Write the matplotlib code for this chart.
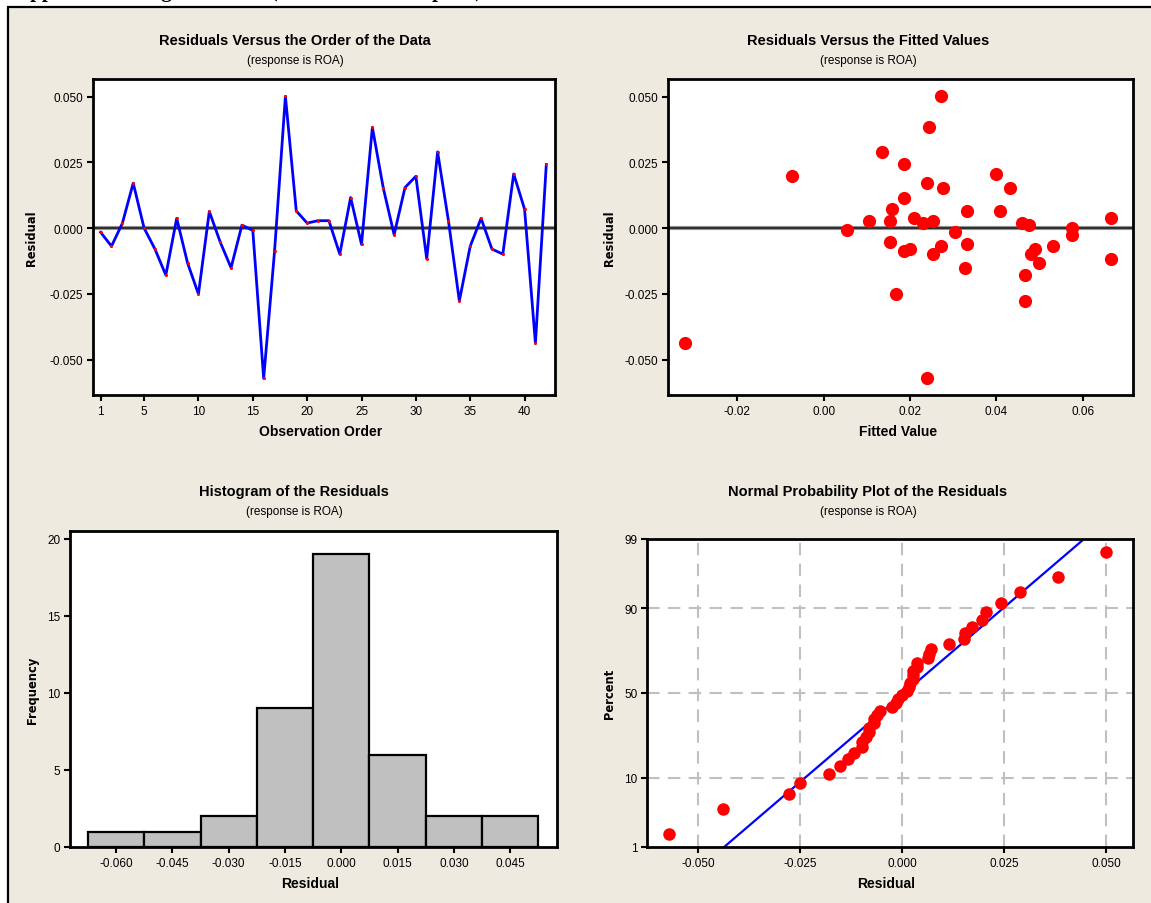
import matplotlib
matplotlib.use("Agg")
import matplotlib.pyplot as plt
from matplotlib import font_manager
from matplotlib.patches import Rectangle
from matplotlib.ticker import FormatStrFormatter
from statistics import NormalDist
import numpy as np

# residuals in observation order (response is ROA)
obs_order = np.arange(1, 43)
residuals = np.array([
    -0.0016, -0.0069, 0.0018, 0.0171, 0.0000, -0.0080, -0.0179, 0.0037,
    -0.0133, -0.0251, 0.0063, -0.0053, -0.0151, 0.0011, -0.0009, -0.0572,
    -0.0089, 0.0501, 0.0065, 0.0019, 0.0028, 0.0028, -0.0099, 0.0116,
    -0.0062, 0.0383, 0.0153, -0.0025, 0.0154, 0.0197, -0.0117, 0.0290,
    0.0027, -0.0277, -0.0069, 0.0037, -0.0080, -0.0099, 0.0206, 0.0072,
    -0.0438, 0.0242])
fitted = np.array([
    0.0305, 0.0272, 0.0229, 0.0239, 0.0574, 0.0201, 0.0465, 0.0210,
    0.0499, 0.0168, 0.0333, 0.0154, 0.0328, 0.0475, 0.0054, 0.0239,
    0.0187, 0.0272, 0.0409, 0.0460, 0.0154, 0.0253, 0.0253, 0.0187,
    0.0333, 0.0243, 0.0277, 0.0574, 0.0432, -0.0073, 0.0664, 0.0135,
    0.0106, 0.0465, 0.0532, 0.0664, 0.0490, 0.0480, 0.0399, 0.0158,
    -0.0320, 0.0187])

order_ticks = [1, 5, 10, 15, 20, 25, 30, 35, 40]
resid_ticks = [-0.050, -0.025, 0.000, 0.025, 0.050]
fit_ticks = [-0.02, 0.00, 0.02, 0.04, 0.06]
hist_bins = [-0.0675, -0.0525, -0.0375, -0.0225, -0.0075, 0.0075, 0.0225, 0.0375, 0.0525]
hist_ticks = [-0.060, -0.045, -0.030, -0.015, 0.000, 0.015, 0.030, 0.045]
freq_ticks = [0, 5, 10, 15, 20]
prob_xticks = [-0.050, -0.025, 0.000, 0.025, 0.050]
prob_ticks = [1, 10, 50, 90, 99]
fit_line_pct = [1, 99]
fit_line_res = [-0.0436, 0.0446]

names = {f.name for f in font_manager.fontManager.ttflist}
narrow = 'Liberation Sans Narrow' if 'Liberation Sans Narrow' in names else 'Liberation Sans'
plt.rcParams['font.family'] = [narrow, 'DejaVu Sans']
plt.rcParams['axes.unicode_minus'] = False

W, H = 1151, 904
BG = '#EEEAE0'
fig = plt.figure(figsize=(W / 100, H / 100), dpi=100, facecolor='white')
fig.patches.append(Rectangle((8 / W, -0.02), 1, 1 - 8 / H + 0.02, transform=fig.transFigure,
                             facecolor=BG, edgecolor='black', linewidth=1.6, zorder=-1))
# page heading, cut off at the top edge as in the scanned page
fig.text(15 / W, 1 + 3 / H, 'Appendix 4: Diagnostic Test (Model 1 residual plots)',
         fontfamily='Liberation Serif', fontweight='bold', fontsize=15, va='baseline', ha='left')


def box(x0, y0, x1, y1):
    return [x0 / W, 1 - y1 / H, (x1 - x0) / W, (y1 - y0) / H]


def txt(x, y, s, **kw):
    fig.text(x / W, 1 - y / H, s, ha='center', va='center', **kw)


def style(ax):
    ax.set_facecolor('white')
    for side in ax.spines.values():
        side.set_linewidth(2)
        side.set_color('black')
    ax.tick_params(direction='out', length=4, width=1.5, labelsize=8.5, pad=3,
                   top=False, right=False)


def titles(xc, y, title, xl, xlx, xly, yl, ylx, yly):
    txt(xc, y, title, fontsize=10.5, fontweight='bold')
    txt(xc, y + 20, '(response is ROA)', fontsize=8.5)
    txt(xlx, xly, xl, fontsize=10, fontweight='bold')
    txt(ylx, yly, yl, fontsize=8.3, fontweight='bold', rotation=90, family='DejaVu Sans')


# Residuals versus order
ax1 = fig.add_axes(box(93, 80, 555, 396))
style(ax1)
ax1.axhline(0, color='#A0A0A0', lw=3, zorder=1)
ax1.axhline(0, color='#303030', lw=1.6, zorder=2)
ax1.plot(obs_order, residuals, color='#0000FF', lw=2, zorder=3)
ax1.plot(obs_order, residuals, 'o', color='red', ms=2.2, mew=0, zorder=4)
ax1.set_xlim(0.3, 42.8)
ax1.set_ylim(-0.0635, 0.0567)
ax1.set_xticks(order_ticks)
ax1.set_yticks(resid_ticks)
ax1.yaxis.set_major_formatter(FormatStrFormatter('%.3f'))
titles(295, 41, 'Residuals Versus the Order of the Data', 'Observation Order', 321, 432,
       'Residual', 32, 238)

# Residuals versus fits
ax2 = fig.add_axes(box(668, 80, 1133, 396))
style(ax2)
ax2.axhline(0, color='#A0A0A0', lw=3, zorder=1)
ax2.axhline(0, color='#303030', lw=1.6, zorder=2)
ax2.plot(fitted, residuals, 'o', color='red', ms=9.5, mew=0, zorder=3)
ax2.set_xlim(-0.036, 0.0716)
ax2.set_ylim(-0.0635, 0.0567)
ax2.set_xticks(fit_ticks)
ax2.set_yticks(resid_ticks)
ax2.xaxis.set_major_formatter(FormatStrFormatter('%.2f'))
ax2.yaxis.set_major_formatter(FormatStrFormatter('%.3f'))
titles(868, 41, 'Residuals Versus the Fitted Values', 'Fitted Value', 898, 432,
       'Residual', 610, 238)

# Histogram
ax3 = fig.add_axes(box(70, 532, 557, 848))
style(ax3)
ax3.hist(residuals, bins=hist_bins, color='#C0C0C0', edgecolor='black', linewidth=1.6, zorder=2)
ax3.set_xlim(-0.0723, 0.0575)
ax3.set_ylim(0, 20.5)
ax3.set_xticks(hist_ticks)
ax3.set_yticks(freq_ticks)
ax3.xaxis.set_major_formatter(FormatStrFormatter('%.3f'))
titles(294, 492, 'Histogram of the Residuals', 'Residual', 310, 884,
       'Frequency', 33, 690)

# Normal probability plot
nd = NormalDist()
n = len(residuals)
sorted_res = np.sort(residuals)
pct = (np.arange(1, n + 1) - 0.3) / (n + 0.4)
z_pts = [nd.inv_cdf(p) for p in pct]
ax4 = fig.add_axes(box(647, 540, 1133, 848))
style(ax4)
z_ticks = [nd.inv_cdf(p / 100) for p in prob_ticks]
for zt in z_ticks[1:-1]:
    ax4.axhline(zt, color='#C0C0C0', lw=1.5, ls=(0, (6, 4)), zorder=1)
for xt in prob_xticks:
    ax4.axvline(xt, color='#C0C0C0', lw=1.5, ls=(0, (6, 4)), zorder=1)
ax4.plot(fit_line_res, [nd.inv_cdf(p / 100) for p in fit_line_pct], color='#0000FF', lw=1.6, zorder=2)
ax4.plot(sorted_res, z_pts, 'o', color='red', ms=9, mew=0, zorder=3)
ax4.set_xlim(-0.0625, 0.0566)
ax4.set_ylim(z_ticks[0], z_ticks[-1])
ax4.set_xticks(prob_xticks)
ax4.set_yticks(z_ticks)
ax4.set_yticklabels([str(p) for p in prob_ticks])
ax4.xaxis.set_major_formatter(FormatStrFormatter('%.3f'))
titles(868, 492, 'Normal Probability Plot of the Residuals', 'Residual', 886, 884,
       'Percent', 609, 694)

fig.savefig('out.png', dpi=100, facecolor='white')
